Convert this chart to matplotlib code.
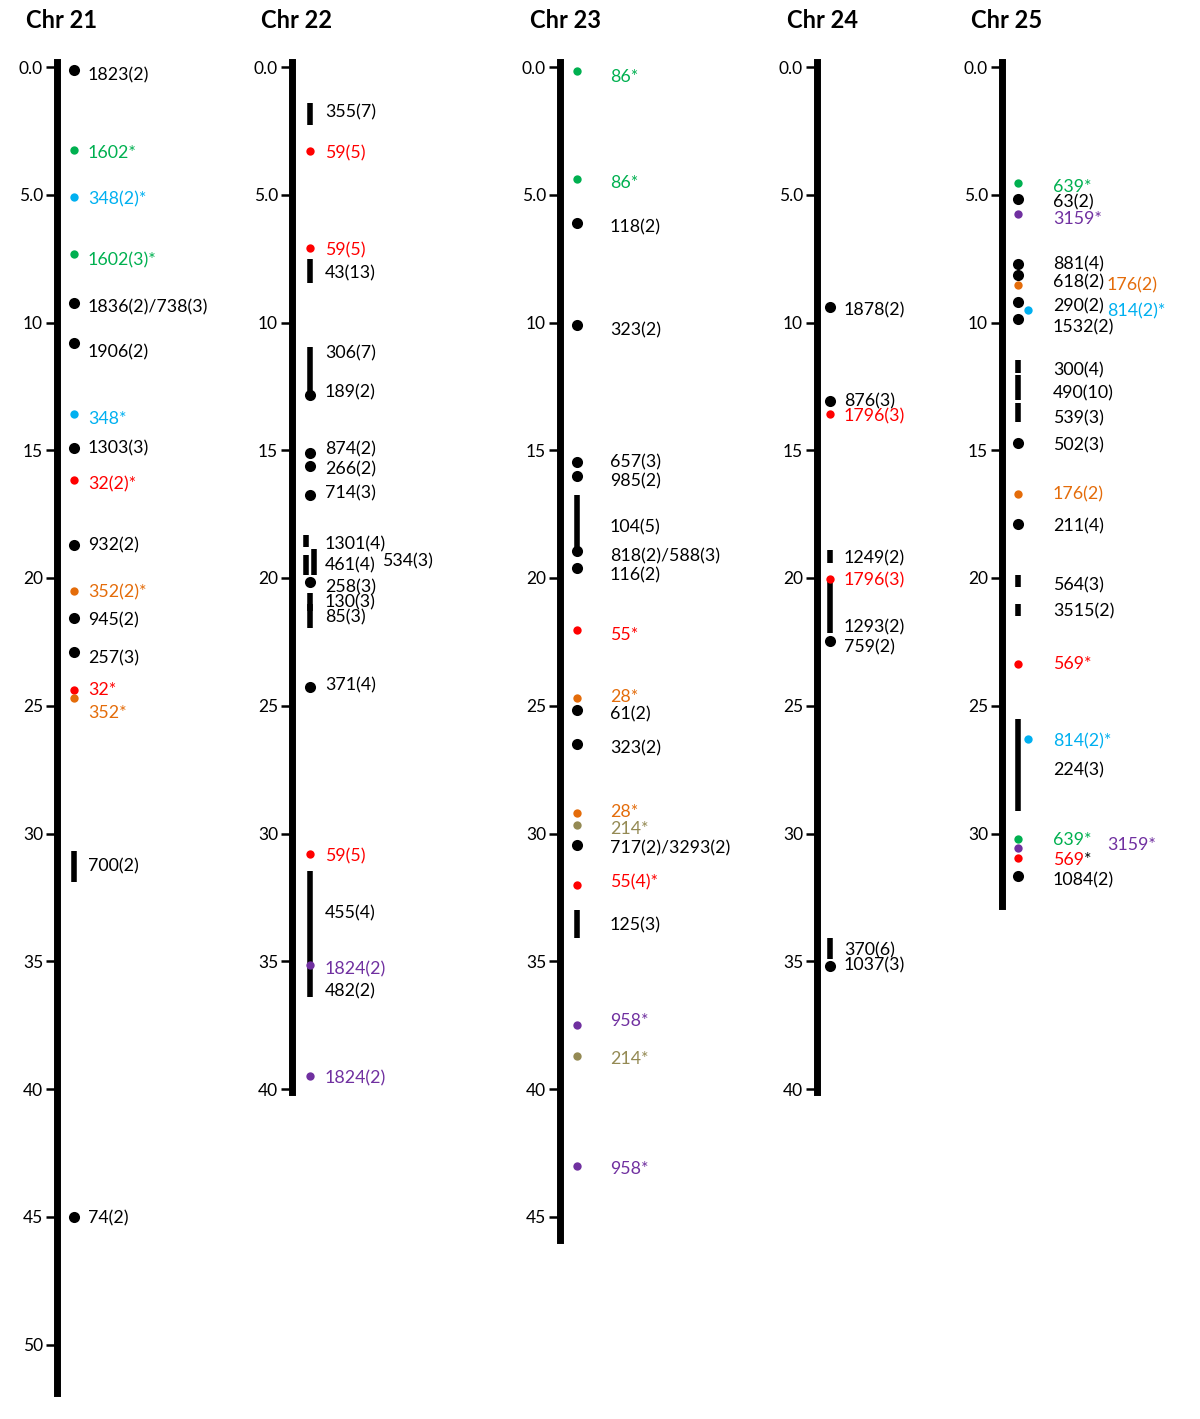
import matplotlib
matplotlib.use('Agg')
import matplotlib.pyplot as plt

plt.rcParams['font.family'] = ['Lato', 'DejaVu Sans']

# ---- data (positions in cM) ----
chroms = ['21', '22', '23', '24', '25']
chrom_len = [51.9, 40.1, 45.9, 40.1, 32.85]
tick_max = [50, 40, 45, 40, 30]

chr21_names = ['1823(2)', '1602*', '348(2)*', '1602(3)*', '1836(2)/738(3)', '1906(2)', '348*',
               '1303(3)', '32(2)*', '932(2)', '352(2)*', '945(2)', '257(3)', '32*', '352*',
               '700(2)', '74(2)']
chr21_start = [0.1, 3.25, 5.1, 7.3, 9.25, 10.8, 13.6, 14.9, 16.15, 18.7, 20.5, 21.55, 22.9,
               24.4, 24.7, 30.7, 45.0]
chr21_end = [None] * 15 + [31.9, None]
chr21_group = ['k', 'g', 'c', 'g', 'k', 'k', 'c', 'k', 'r', 'k', 'o', 'k', 'k', 'r', 'o', 'k', 'k']

chr22_names = ['355(7)', '59(5)', '59(5)', '43(13)', '306(7)', '189(2)', '874(2)', '266(2)',
               '714(3)', '1301(4)', '461(4)', '534(3)', '258(3)', '130(3)', '85(3)', '371(4)',
               '59(5)', '455(4)', '1824(2)', '482(2)', '1824(2)']
chr22_start = [1.4, 3.3, 7.1, 7.5, 10.95, 12.85, 15.1, 15.6, 16.75, 18.3, 19.1, 18.85, 20.15,
               20.6, 21.0, 24.25, 30.8, 31.45, 35.15, 35.1, 39.5]
chr22_end = [2.27, None, None, 8.45, 12.7, None, None, None, None, 18.8, 19.9, 19.9, None,
             21.3, 21.95, None, None, 35.1, None, 36.4, None]
chr22_group = ['k', 'r', 'r', 'k', 'k', 'k', 'k', 'k', 'k', 'k', 'k', 'k', 'k', 'k', 'k', 'k',
               'r', 'k', 'p', 'k', 'p']

chr23_names = ['86*', '86*', '118(2)', '323(2)', '657(3)', '985(2)', '104(5)', '818(2)/588(3)',
               '116(2)', '55*', '28*', '61(2)', '323(2)', '28*', '214*', '717(2)/3293(2)',
               '55(4)*', '125(3)', '958*', '214*', '958*']
chr23_start = [0.15, 4.4, 6.1, 10.1, 15.45, 16.0, 16.75, 18.95, 19.6, 22.05, 24.7, 25.15, 26.5,
               29.2, 29.65, 30.45, 32.0, 33.0, 37.5, 38.7, 43.0]
chr23_end = [None] * 6 + [18.9] + [None] * 10 + [34.1, None, None, None]
chr23_group = ['g', 'g', 'k', 'k', 'k', 'k', 'k', 'k', 'k', 'r', 'o', 'k', 'k', 'o', 'y', 'k',
               'r', 'k', 'p', 'y', 'p']

chr24_names = ['1878(2)', '876(3)', '1796(3)', '1249(2)', '1796(3)', '1293(2)', '759(2)',
               '370(6)', '1037(3)']
chr24_start = [9.4, 13.07, 13.6, 18.9, 20.05, 20.15, 22.45, 34.1, 35.2]
chr24_end = [None, None, None, 19.4, None, 22.15, None, 34.9, None]
chr24_group = ['k', 'k', 'r', 'k', 'r', 'k', 'k', 'k', 'k']

chr25_names = ['639*', '63(2)', '3159*', '881(4)', '618(2)', '176(2)', '290(2)', '814(2)*',
               '1532(2)', '300(4)', '490(10)', '539(3)', '502(3)', '176(2)', '211(4)', '564(3)',
               '3515(2)', '569*', '814(2)*', '224(3)', '639*', '3159*', '569*', '1084(2)']
chr25_start = [4.55, 5.15, 5.75, 7.7, 8.15, 8.55, 9.2, 9.5, 9.85, 11.47, 12.05, 13.15, 14.7,
               16.7, 17.9, 19.9, 21.0, 23.35, 26.3, 25.5, 30.2, 30.55, 30.95, 31.65]
chr25_end = [None] * 9 + [11.97, 13.03, 13.9, None, None, None, 20.35, 21.5, None, None, 29.1,
                          None, None, None, None]
chr25_group = ['g', 'k', 'p', 'k', 'k', 'o', 'k', 'c', 'k', 'k', 'k', 'k', 'k', 'o', 'k', 'k',
               'k', 'r', 'c', 'k', 'g', 'p', 'r', 'k']

# ---- layout ----
chr21_label_y = [0.27, 3.29, 5.13, 7.48, 9.32, 11.08, 13.7, 14.87, 16.28, 18.67, 20.51, 21.6,
                 23.09, 24.3, 25.2, 31.23, 45.0]
chr22_label_y = [1.72, 3.33, 7.12, 8.02, 11.15, 12.68, 14.91, 15.66, 16.63, 18.63, 19.45, 19.26,
                 20.31, 20.9, 21.49, 24.15, 30.84, 33.07, 35.23, 36.09, 39.53]
chr23_label_y = [0.31, 4.46, 6.22, 10.22, 15.42, 16.16, 17.96, 19.1, 19.84, 22.15, 24.58, 25.28,
                 26.61, 29.08, 29.75, 30.53, 31.86, 33.54, 37.26, 38.75, 43.05]
chr24_label_y = [9.47, 13.03, 13.62, 19.18, 20.04, 21.88, 22.66, 34.52, 35.11]
chr25_label_y = [4.62, 5.24, 5.87, 7.67, 8.34, 8.49, 9.28, 9.51, 10.14, 11.82, 12.72, 13.7,
                 14.72, 16.67, 17.89, 20.2, 21.25, 23.29, 26.34, 27.44, 30.18, 30.37, 30.96, 31.78]

all_names = [chr21_names, chr22_names, chr23_names, chr24_names, chr25_names]
all_start = [chr21_start, chr22_start, chr23_start, chr24_start, chr25_start]
all_end = [chr21_end, chr22_end, chr23_end, chr24_end, chr25_end]
all_group = [chr21_group, chr22_group, chr23_group, chr24_group, chr25_group]
all_label_y = [chr21_label_y, chr22_label_y, chr23_label_y, chr24_label_y, chr25_label_y]

colors = {'k': 'black', 'g': '#00b050', 'c': '#00b0f0', 'r': '#ff0000',
          'o': '#e46c0a', 'p': '#7030a0', 'y': '#948a54'}

W, H = 1200, 1419
bar_x = [57, 292, 560, 817, 1002]      # pixel x of each chromosome bar
mark_off = [17, 18, 17, 13, 16]        # marker offset from bar (px)
text_off = [31, 33, 50, 27, 51]        # label offset from bar (px)
mark_shift = {(1, 9): -4, (1, 10): -4, (1, 11): 4, (4, 7): 10, (4, 18): 10}
text_shift = {(1, 11): 57, (4, 5): 54, (4, 7): 54, (4, 21): 54}
black_star = {(4, 22)}
label_dy = 0.07
fs = 12.8

px_per_cm = 25.55
y0_px = 67
top_px, bot_px = 55, 1405
ax_w = 230

fig = plt.figure(figsize=(W / 100, H / 100), dpi=100)

for i, c in enumerate(chroms):
    ax = fig.add_axes([bar_x[i] / W, (H - bot_px) / H, ax_w / W, (bot_px - top_px) / H])
    ax.set_xlim(0, ax_w)
    ax.set_ylim((bot_px - y0_px) / px_per_cm, (top_px - y0_px) / px_per_cm)
    ax.patch.set_visible(False)
    for s in ['top', 'right', 'bottom']:
        ax.spines[s].set_visible(False)
    ax.spines['left'].set_linewidth(5)
    ax.spines['left'].set_bounds(-0.2, chrom_len[i])
    ticks = list(range(0, tick_max[i] + 1, 5))
    ax.set_yticks(ticks)
    ax.set_yticklabels(['%.1f' % t if t < 10 else '%d' % t for t in ticks])
    ax.set_xticks([])
    ax.tick_params(axis='y', direction='out', length=8, width=1.8, labelsize=12.5, pad=2)

    for j, name in enumerate(all_names[i]):
        col = colors[all_group[i][j]]
        x = mark_off[i] + mark_shift.get((i, j), 0)
        s, e = all_start[i][j], all_end[i][j]
        if e is None:
            ms = 8 if all_group[i][j] == 'k' else 6
            ax.plot(x, s, 'o', ms=ms, color=col, mec='none', clip_on=False, zorder=4)
        else:
            ax.plot([x, x], [s, e], color=col, lw=4, solid_capstyle='butt', clip_on=False,
                    zorder=3)
        tx = text_off[i] + text_shift.get((i, j), 0)
        ty = all_label_y[i][j] + label_dy
        if (i, j) in black_star:
            t = ax.text(tx, ty, name[:-1], color=col, fontsize=fs, va='center', ha='left')
            ax.annotate('*', xy=(1, 0), xycoords=t, va='bottom', ha='left',
                        color='black', fontsize=fs)
        else:
            ax.text(tx, ty, name, color=col, fontsize=fs, va='center', ha='left')

    fig.text((bar_x[i] + 5) / W, 1 - 21 / H, 'Chr ' + c, ha='center', va='center',
             fontsize=17, fontweight='bold')

fig.savefig('out.png', dpi=100)
